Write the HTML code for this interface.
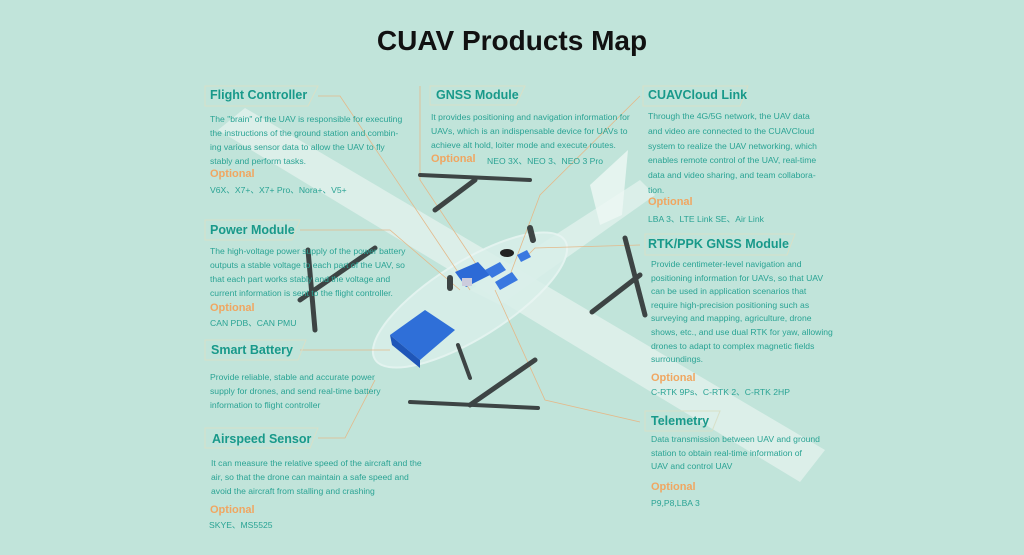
<!DOCTYPE html>
<html><head><meta charset="utf-8"><style>
body{margin:0;width:1024px;height:555px;background:#c1e4da;position:relative;overflow:hidden;font-family:"Liberation Sans",sans-serif}
svg{position:absolute;left:0;top:0}
.t{position:absolute;font-size:8.6px;color:#2aa394;line-height:14px;white-space:nowrap}
.h{position:absolute;font-size:12.5px;font-weight:bold;color:#18998a;white-space:nowrap}
.o{position:absolute;font-size:11px;font-weight:bold;color:#f0a661}
h1{position:absolute;left:0;width:1024px;top:25px;margin:0;text-align:center;font-size:28px;font-weight:bold;color:#111}
</style></head><body>
<svg width="1024" height="555">
<polygon points="218,130 245,108 825,450 800,482" fill="#eef6f3" opacity="0.6"/>
<polygon points="470,290 640,180 655,195 500,305" fill="#e6f4f0" opacity="0.7"/>
<polygon points="590,185 628,150 622,215 600,225" fill="#eef7f4" opacity="0.8"/>
<ellipse cx="470" cy="300" rx="112" ry="38" transform="rotate(-32 470 300)" fill="#d9efea" stroke="#e9f6f3" stroke-width="2" opacity="0.85"/>
<g stroke="#e4b98a" stroke-width="0.8" fill="none">
<polyline points="318,96 340,96 470,290"/>
<polyline points="420,86 420,180 480,270"/>
<polyline points="640,96 540,195 510,275"/>
<polyline points="300,230 390,230 460,290"/>
<polyline points="640,245 535,248 525,258"/>
<polyline points="300,350 390,350"/>
<polyline points="640,422 545,400 495,290"/>
<polyline points="318,438 345,438 375,380"/>
</g>
<polygon points="390,335 425,310 455,330 420,360" fill="#2f6fd8"/>
<polygon points="390,335 420,360 420,368 392,345" fill="#1f56b8"/>
<polygon points="455,272 478,262 490,275 466,287" fill="#2d6ad6"/>
<rect x="462" y="278" width="10" height="8" fill="#ccd"/>
<polygon points="485,270 500,262 506,270 492,278" fill="#3a78e0"/>
<polygon points="495,282 512,272 518,280 500,290" fill="#3a78e0"/>
<polygon points="517,255 527,250 531,257 521,262" fill="#3a78e0"/>
<ellipse cx="507" cy="253" rx="7" ry="4" fill="#222"/>
<g stroke="#3d4444" stroke-linecap="round">
<line x1="435" y1="210" x2="475" y2="180" stroke-width="5"/>
<line x1="420" y1="175" x2="530" y2="180" stroke-width="4"/>
<line x1="300" y1="300" x2="375" y2="248" stroke-width="5"/>
<line x1="308" y1="250" x2="315" y2="330" stroke-width="5"/>
<line x1="592" y1="312" x2="640" y2="275" stroke-width="5"/>
<line x1="625" y1="238" x2="645" y2="315" stroke-width="5"/>
<line x1="458" y1="345" x2="470" y2="378" stroke-width="4"/>
<line x1="470" y1="405" x2="535" y2="360" stroke-width="5"/>
<line x1="410" y1="402" x2="538" y2="408" stroke-width="4"/>
<line x1="530" y1="228" x2="533" y2="240" stroke-width="6"/>
<line x1="450" y1="278" x2="450" y2="288" stroke-width="6"/>
</g>
</svg>
<h1>CUAV Products Map</h1>
<svg width="1024" height="555">
<g fill="none" stroke="#d8e0c8" stroke-width="1">
<polygon points="205,86 318,86 308,106 205,106"/>
<polygon points="430,86 525,86 516,105 430,105"/>
<polygon points="643,86 748,86 740,106 643,106"/>
<polygon points="205,220 300,220 292,240 205,240"/>
<polygon points="205,340 306,340 298,360 205,360"/>
<polygon points="205,428 318,428 310,448 205,448"/>
<polygon points="645,234 795,234 787,255 645,255"/>
<polygon points="645,411 720,411 712,431 645,431"/>
</g></svg>
<div class="h" style="left:210px;top:88px">Flight Controller</div>
<div class="t" style="left:210px;top:112px">The "brain" of the UAV is responsible for executing<br>the instructions of the ground station and combin-<br>ing various sensor data to allow the UAV to fly<br>stably and perform tasks.</div>
<div class="o" style="left:210px;top:168px">Optional</div>
<div class="t" style="left:210px;top:183px">V6X、X7+、X7+ Pro、Nora+、V5+</div>

<div class="h" style="left:436px;top:88px">GNSS Module</div>
<div class="t" style="left:431px;top:110px">It provides positioning and navigation information for<br>UAVs, which is an indispensable device for UAVs to<br>achieve alt hold, loiter mode and execute routes.</div>
<div class="o" style="left:431px;top:153px">Optional</div>
<div class="t" style="left:487px;top:154px">NEO 3X、NEO 3、NEO 3 Pro</div>

<div class="h" style="left:648px;top:88px">CUAVCloud Link</div>
<div class="t" style="left:648px;top:109px;line-height:14.8px">Through the 4G/5G network, the UAV data<br>and video are connected to the CUAVCloud<br>system to realize the UAV networking, which<br>enables remote control of the UAV, real-time<br>data and video sharing, and team collabora-<br>tion.</div>
<div class="o" style="left:648px;top:196px">Optional</div>
<div class="t" style="left:648px;top:212px">LBA 3、LTE Link SE、Air Link</div>

<div class="h" style="left:648px;top:237px">RTK/PPK GNSS Module</div>
<div class="t" style="left:651px;top:258px;line-height:13.6px">Provide centimeter-level navigation and<br>positioning information for UAVs, so that UAV<br>can be used in application scenarios that<br>require high-precision positioning such as<br>surveying and mapping, agriculture, drone<br>shows, etc., and use dual RTK for yaw, allowing<br>drones to adapt to complex magnetic fields<br>surroundings.</div>
<div class="o" style="left:651px;top:372px">Optional</div>
<div class="t" style="left:651px;top:385px">C-RTK 9Ps、C-RTK 2、C-RTK 2HP</div>

<div class="h" style="left:651px;top:414px">Telemetry</div>
<div class="t" style="left:651px;top:433px;line-height:13.6px">Data transmission between UAV and ground<br>station to obtain real-time information of<br>UAV and control UAV</div>
<div class="o" style="left:651px;top:481px">Optional</div>
<div class="t" style="left:651px;top:496px">P9,P8,LBA 3</div>

<div class="h" style="left:210px;top:223px">Power Module</div>
<div class="t" style="left:210px;top:244px">The high-voltage power supply of the power battery<br>outputs a stable voltage to each part of the UAV, so<br>that each part works stably and the voltage and<br>current information is sent to the flight controller.</div>
<div class="o" style="left:210px;top:302px">Optional</div>
<div class="t" style="left:210px;top:316px">CAN PDB、CAN PMU</div>

<div class="h" style="left:211px;top:343px">Smart Battery</div>
<div class="t" style="left:210px;top:370px">Provide reliable, stable and accurate power<br>supply for drones, and send real-time battery<br>information to flight controller</div>

<div class="h" style="left:212px;top:432px">Airspeed Sensor</div>
<div class="t" style="left:211px;top:456px">It can measure the relative speed of the aircraft and the<br>air, so that the drone can maintain a safe speed and<br>avoid the aircraft from stalling and crashing</div>
<div class="o" style="left:210px;top:504px">Optional</div>
<div class="t" style="left:209px;top:518px">SKYE、MS5525</div>
</body></html>
